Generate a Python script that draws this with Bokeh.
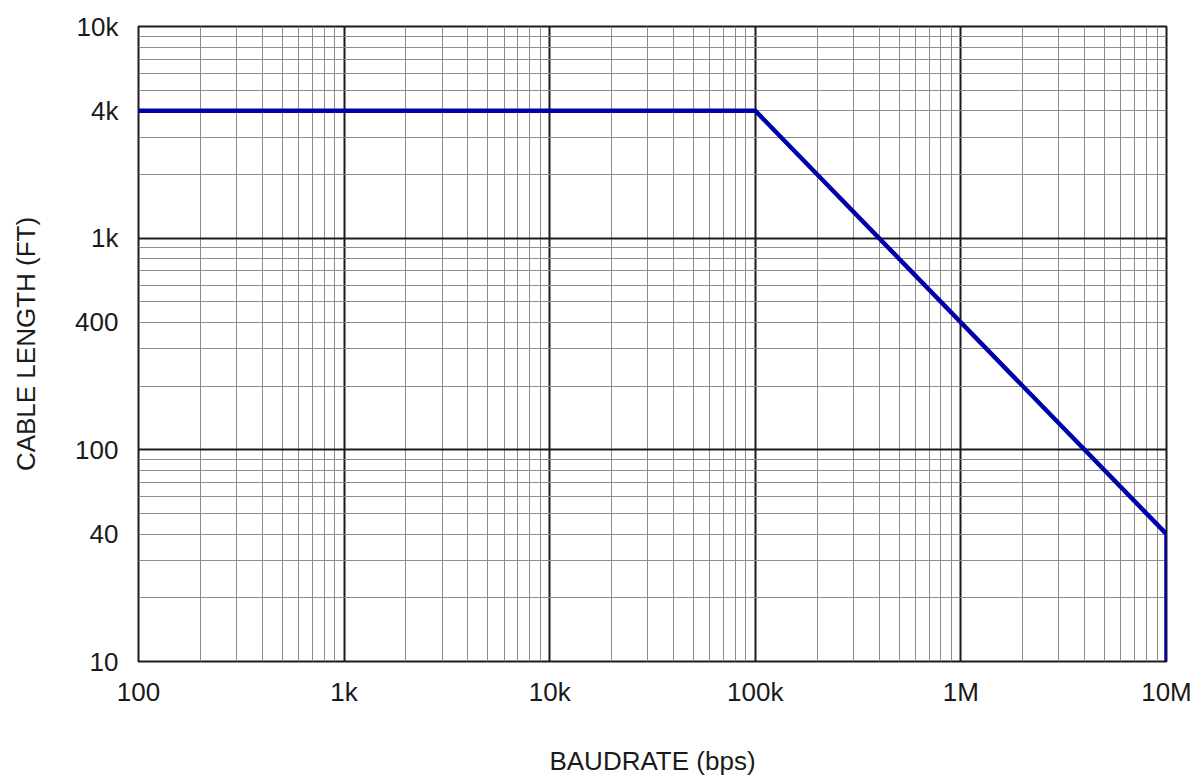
from bokeh.plotting import figure
from bokeh.models import Range1d, FixedTicker
from bokeh.embed import file_html
from bokeh.resources import INLINE

# Data: baud rate (bps) vs. maximum cable length (ft)
baud_rate = [100, 100000, 10000000, 10000000]
cable_length = [4000, 4000, 40, 10]

x_tick_vals = [100, 1000, 10000, 100000, 1000000, 10000000]
x_tick_labels = ["100", "1k", "10k", "100k", "1M", "10M"]
y_tick_vals = [10, 40, 100, 400, 1000, 4000, 10000]
y_tick_labels = ["10", "40", "100", "400", "1k", "4k", "10k"]

x_decades = [100, 1000, 10000, 100000, 1000000, 10000000]
y_decades = [10, 100, 1000, 10000]
x_minor = [m * d for d in x_decades[:-1] for m in range(2, 10)]
y_minor = [m * d for d in y_decades[:-1] for m in range(2, 10)]

FONT = "Liberation Sans"
TEXT = "#1a1a1a"

p = figure(width=1195, height=778, x_axis_type="log", y_axis_type="log",
           x_range=Range1d(100, 1e7), y_range=Range1d(10, 1e4),
           output_backend="svg", toolbar_location=None,
           min_border_left=138, min_border_right=29,
           min_border_top=26, min_border_bottom=116)

p.background_fill_color = "white"
p.border_fill_color = "white"
p.outline_line_color = "#1a1a1a"
p.outline_line_width = 2

# grids: decades dark, sub-decades gray
p.xgrid.ticker = FixedTicker(ticks=x_decades, minor_ticks=x_minor)
p.ygrid.ticker = FixedTicker(ticks=y_decades, minor_ticks=y_minor)
for g in (p.xgrid, p.ygrid):
    g.grid_line_color = "#1a1a1a"
    g.grid_line_width = 2
    g.minor_grid_line_color = "#8c8c8c"
    g.minor_grid_line_width = 1

p.xaxis.ticker = FixedTicker(ticks=x_tick_vals, minor_ticks=[])
p.yaxis.ticker = FixedTicker(ticks=y_tick_vals, minor_ticks=[])
p.xaxis.major_label_overrides = {float(v): l for v, l in zip(x_tick_vals, x_tick_labels)}
p.yaxis.major_label_overrides = {float(v): l for v, l in zip(y_tick_vals, y_tick_labels)}

p.xaxis.axis_label = "BAUDRATE (bps)"
p.yaxis.axis_label = "CABLE LENGTH (FT)"

for ax in (p.xaxis, p.yaxis):
    ax.axis_line_color = None
    ax.major_tick_line_color = None
    ax.minor_tick_line_color = None
    ax.major_tick_out = 0
    ax.major_tick_in = 0
    ax.minor_tick_out = 0
    ax.major_label_text_font = FONT
    ax.major_label_text_font_size = "26px"
    ax.major_label_text_color = TEXT
    ax.axis_label_text_font = FONT
    ax.axis_label_text_font_size = "26px"
    ax.axis_label_text_font_style = "normal"
    ax.axis_label_text_color = TEXT

p.xaxis.major_label_standoff = 15
p.xaxis.axis_label_standoff = 36
p.yaxis.major_label_standoff = 20
p.yaxis.axis_label_standoff = 31

p.line(baud_rate, cable_length, line_color="#0000aa", line_width=4.5,
       line_join="miter")

open("out.html", "w").write(file_html(p, INLINE))
